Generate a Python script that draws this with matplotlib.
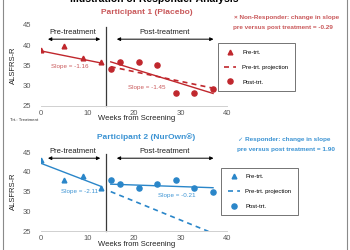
import matplotlib
matplotlib.use("Agg")
import matplotlib.pyplot as plt
from matplotlib.lines import Line2D

plt.rcParams['font.family'] = ['Liberation Sans', 'DejaVu Sans']

# ---- data (weeks from screening vs ALSFRS-R) ----
pre_weeks = [0, 5, 9, 13]
post_weeks = [15, 17, 21, 25, 29, 33, 37]

p1_pre = [38.8, 39.9, 36.9, 35.9]
p1_post = [34.1, 35.9, 35.9, 35.0, 28.1, 28.1, 29.1]
p1_pre_fit = [38.6, 35.6]        # at weeks 0, 13
p1_post_fit = [35.9, 28.1]       # at weeks 15, 37
p1_proj = [34.7, 29.4]           # at weeks 15, 37

p2_pre = [43.0, 38.0, 39.1, 35.9]
p2_post = [38.0, 36.9, 36.0, 36.9, 38.0, 36.0, 35.0]
p2_pre_fit = [42.2, 36.3]
p2_post_fit = [36.9, 36.0]
p2_proj = [35.0, 24.9]           # at weeks 15, 36

RED = "#c0272d"
RED_TXT = "#c9585a"
BLUE = "#2a86c9"
BLUE_TXT = "#3b93d3"
GREY = "#595959"

fig = plt.figure(figsize=(3.5, 2.5), dpi=100)


def panel(rect, pre, post, pre_fit, post_fit, proj, proj_end, color, txt_color,
          title, slope_pre, slope_pre_xy, slope_post, slope_post_xy, arrow_y,
          legend_anchor, title_y, xlabel_y):
    ax = fig.add_axes(rect)
    ax.plot([0, 13], pre_fit, color=color, lw=1.0)
    ax.plot([15, 37], post_fit, color=color, lw=1.0)
    ax.plot(pre_weeks, pre, "^", color=color, ms=3.4, label="Pre-trt.")
    ax.plot([15, proj_end], proj, "--", color=color, lw=1.2, dashes=(3, 2.5),
            label="Pre-trt. projection")
    ax.plot(post_weeks, post, "o", color=color, ms=3.7, label="Post-trt.")
    ax.plot([14, 14], [25, 44.6], color="#3a3a3a", lw=0.9, clip_on=False)

    ax.annotate("", xy=(1.5, arrow_y), xytext=(12.75, arrow_y),
                arrowprops=dict(arrowstyle="<|-|>", color="black", lw=0.7,
                                mutation_scale=5, shrinkA=0, shrinkB=0),
                annotation_clip=False)
    ax.annotate("", xy=(16.3, arrow_y), xytext=(37.1, arrow_y),
                arrowprops=dict(arrowstyle="<|-|>", color="black", lw=0.7,
                                mutation_scale=5, shrinkA=0, shrinkB=0),
                annotation_clip=False)
    ax.text(6.9, arrow_y + 1.6, "Pre-treatment", fontsize=5.5, ha="center",
            va="center", color="#222222", clip_on=False)
    ax.text(26.5, arrow_y + 1.6, "Post-treatment", fontsize=5.5, ha="center",
            va="center", color="#222222", clip_on=False)

    ax.text(*slope_pre_xy, slope_pre, fontsize=4.5, color=txt_color,
            ha="center", va="center")
    ax.text(*slope_post_xy, slope_post, fontsize=4.5, color=txt_color,
            ha="center", va="center")

    ax.set_xlim(0, 40)
    ax.set_ylim(25, 45)
    ax.set_xticks([0, 10, 20, 30, 40])
    ax.set_yticks([25, 30, 35, 40, 45])
    ax.tick_params(length=0, labelsize=5.5, labelcolor=GREY, pad=3)
    ax.tick_params(axis="y", pad=7)
    for s in ["top", "right", "left"]:
        ax.spines[s].set_visible(False)
    ax.spines["bottom"].set_color("#d0d0d0")
    ax.spines["bottom"].set_linewidth(0.7)
    ax.patch.set_alpha(0)

    ax.set_ylabel("ALSFRS-R", fontsize=5.5, color="#222222", labelpad=4)
    fig.text(0.39, xlabel_y, "Weeks from Screening", fontsize=5.5,
             ha="center", va="center", color="#222222")
    fig.text(146.5 / 350, title_y, title, fontsize=6, fontweight="bold",
             color=txt_color, ha="center", va="center")

    leg = ax.legend(loc="upper left", bbox_to_anchor=legend_anchor,
                    bbox_transform=fig.transFigure, fontsize=4.3,
                    frameon=True, fancybox=False, edgecolor="#505050",
                    labelspacing=1.6, borderpad=1.1, handlelength=2.0,
                    handletextpad=1.0, borderaxespad=0)
    leg.get_frame().set_linewidth(0.7)
    return ax


panel([41 / 350, 1 - 106 / 250, 186 / 350, 81 / 250],
      p1_pre, p1_post, p1_pre_fit, p1_post_fit, p1_proj, 37, RED, RED_TXT,
      "Participant 1 (Placebo)", "Slope = -1.16", (6.1, 34.7),
      "Slope = -1.45", (22.8, 29.6), 41.5,
      (217.7 / 350, 1 - 43.3 / 250), 1 - 13 / 250, 1 - 119 / 250)

panel([41 / 350, 1 - 231 / 250, 186 / 350, 78.7 / 250],
      p2_pre, p2_post, p2_pre_fit, p2_post_fit, p2_proj, 36, BLUE, BLUE_TXT,
      "Participant 2 (NurOwn\u00ae)", "Slope = -2.11", (8.2, 35.0),
      "Slope = -0.21", (29.2, 34.0), 43.5,
      (221 / 350, 1 - 167.7 / 250), 1 - 137 / 250, 1 - 244 / 250)

# responder annotations
fig.text(234 / 350, 1 - 17 / 250, "\u00d7 Non-Responder: change in slope",
         fontsize=4.6, fontweight="bold", color=RED_TXT, va="center")
fig.text(233 / 350, 1 - 27 / 250, "pre versus post treatment = -0.29",
         fontsize=4.6, fontweight="bold", color=RED_TXT, va="center")
fig.text(238 / 350, 1 - 140 / 250, "\u2713 Responder: change in slope",
         fontsize=4.6, fontweight="bold", color=BLUE_TXT, va="center",
         family=["Liberation Sans", "DejaVu Sans"])
fig.text(237 / 350, 1 - 150 / 250, "pre versus post treatment = 1.90",
         fontsize=4.6, fontweight="bold", color=BLUE_TXT, va="center")

fig.text(10 / 350, 1 - 120 / 250, "Trt.: Treatment", fontsize=3.2,
         color="#333333", va="center")

# slide title (cut off at the top)
fig.text(154 / 350, 1 + 1 / 250, "Illustration of Responder Analysis",
         fontsize=7.5, fontweight="bold", color="black", ha="center",
         va="center")

# slide frame
fig.add_artist(Line2D([2.5 / 350, 2.5 / 350], [0, 1], color="#8a8a8a",
                      lw=0.8, transform=fig.transFigure))
fig.add_artist(Line2D([346.5 / 350, 346.5 / 350], [0, 1], color="#8a8a8a",
                      lw=0.8, transform=fig.transFigure))

fig.savefig("out.png", dpi=100)
